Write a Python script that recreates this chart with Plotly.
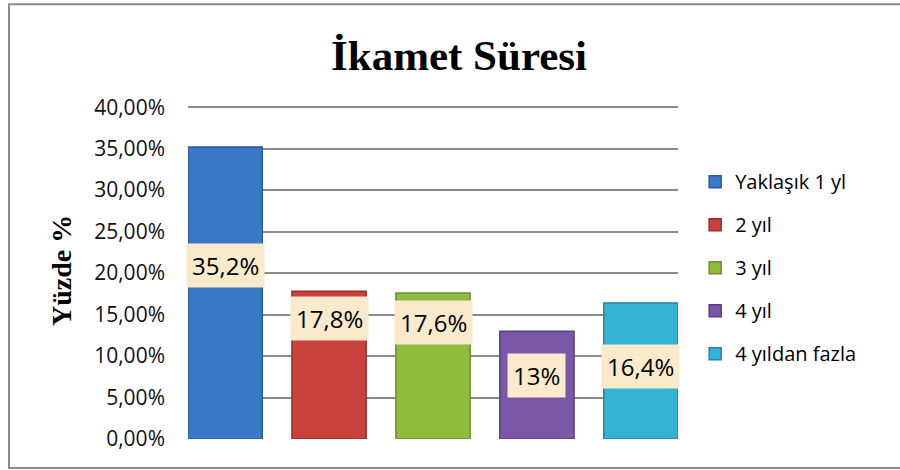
import plotly.graph_objects as go

series_names = ["Yaklaşık 1 yl", "2 yıl", "3 yıl", "4 yıl", "4 yıldan fazla"]
values_pct = [35.2, 17.8, 17.6, 13, 16.4]
tick_values_pct = [0, 5, 10, 15, 20, 25, 30, 35, 40]

# styles / layout (not data)
colors = ["#3C78C8", "#C8413D", "#8FBB3F", "#7A58A7", "#35B3D5"]
edge_colors = ["#2A5A9A", "#962F2C", "#6A8E2C", "#5A3F80", "#2486A2"]
label_y_pct = [20.9, 14.5, 14.0, 7.7, 8.7]
bar_width = 0.714

FONT = "Open Sans"
fig = go.Figure()
for i, (name, v) in enumerate(zip(series_names, values_pct)):
    fig.add_trace(go.Bar(
        x=[i], y=[v / 100], name=name, width=bar_width,
        marker=dict(color=colors[i], line=dict(color=edge_colors[i], width=1.5)),
        legendgroup=name, hoverinfo="skip",
    ))
    txt = f"{v:g}".replace(".", ",") + "%"
    fig.add_annotation(
        x=i, y=label_y_pct[i] / 100, xref="x", yref="y", text=txt,
        showarrow=False, font=dict(family=FONT, size=24, color="#000"),
        bgcolor="#F8EACB", borderpad=5, xanchor="center", yanchor="middle",
    )

fig.add_annotation(
    x=-0.259, y=0.5, xref="paper", yref="paper", text="<b>Yüzde %</b>",
    textangle=-90, showarrow=False, xanchor="center", yanchor="middle",
    font=dict(family="Liberation Serif", size=28, color="#000"),
)

fig.add_shape(type="rect", xref="paper", yref="paper",
              x0=-0.3653, x1=1.46, y0=-0.086, y1=1.294,
              line=dict(color="#8C8C8C", width=2), fillcolor="rgba(0,0,0,0)", layer="below")

fig.update_layout(
    width=900, height=470,
    margin=dict(l=188, r=222, t=103, b=31),
    paper_bgcolor="white", plot_bgcolor="white",
    separators=",.",
    barmode="overlay",
    title=dict(text="<b>İkamet Süresi</b>", x=0.51, xanchor="center", y=0.883, yanchor="middle",
               font=dict(family="Liberation Serif", size=43, color="#000")),
    xaxis=dict(range=[-bar_width / 2, len(values_pct) - 1 + bar_width / 2],
               showticklabels=False, showgrid=False, zeroline=False, showline=False, fixedrange=True),
    yaxis=dict(range=[0, 0.405], tickvals=[t / 100 for t in tick_values_pct], tickformat=".2%",
               showgrid=True, gridcolor="#8A8A8A", gridwidth=2, zeroline=False, showline=False,
               tickfont=dict(family=FONT, size=21, color="#111"), ticklabelstandoff=22),
    legend=dict(x=1.035, xanchor="left", y=0.824, yanchor="top", tracegroupgap=14,
                font=dict(family=FONT, size=20, color="#000"), itemwidth=30,
                bgcolor="rgba(0,0,0,0)"),
    showlegend=True,
)

fig.write_html("out.html", config={"displayModeBar": False},
               post_script="document.body.style.margin='0';")
